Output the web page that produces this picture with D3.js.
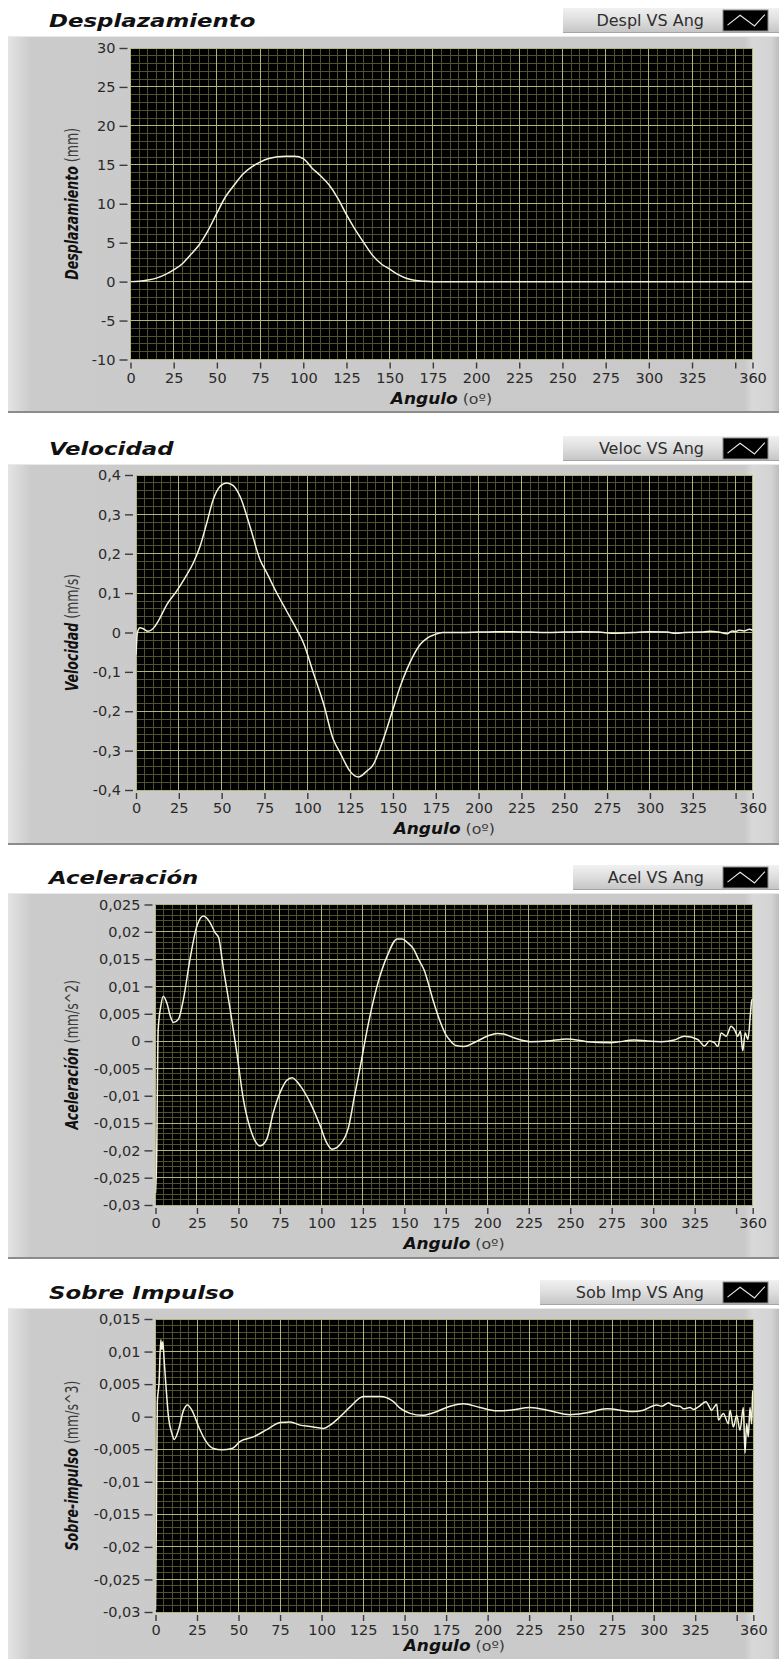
<!DOCTYPE html>
<html>
<head>
<meta charset="utf-8">
<script src="https://cdn.jsdelivr.net/npm/d3@7"></script>
<style>
  body { margin: 0; background: #ffffff; }
  svg { display: block; }
</style>
</head>
<body>
<svg id="chart" width="779" height="1659"></svg>
<script>
// ---- Shared angle axis -------------------------------------------------
const xTickValues = [0, 25, 50, 75, 100, 125, 150, 175, 200, 225, 250, 275, 300, 325, 350, 360];
const xTickLabels = ["0", "25", "50", "75", "100", "125", "150", "175", "200", "225", "250", "275", "300", "325", "", "360"];
const xMinorStep = 5;

// ---- Desplazamiento (mm) ----------------------------------------------
const despAngles = [0, 5, 10, 15, 20, 25, 30, 35, 40, 45, 50, 55, 60, 65, 70, 75, 80, 85, 90, 95,
  100, 105, 110, 115, 120, 125, 130, 135, 140, 145, 150, 155, 160, 165, 170, 175,
  200, 225, 250, 275, 300, 325, 350, 360];
const despValues = [0, 0.05, 0.2, 0.45, 0.9, 1.5, 2.3, 3.5, 4.8, 6.6, 8.8, 10.9, 12.4, 13.8, 14.7, 15.35, 15.8, 16.05, 16.1, 16.1,
  15.8, 14.6, 13.6, 12.4, 10.7, 8.6, 6.7, 5.0, 3.4, 2.3, 1.6, 0.9, 0.4, 0.15, 0.05, 0,
  0, 0, 0, 0, 0, 0, 0, 0];
const despYTicks = [-10, -5, 0, 5, 10, 15, 20, 25, 30];
const despYTickLabels = ["-10", "-5", "0", "5", "10", "15", "20", "25", "30"];

// ---- Velocidad (mm/s) -------------------------------------------------
const velAngles = [0, 0.8, 2.3, 4, 7, 10, 13, 18, 23.7, 28.6, 33.5, 37.4, 41.3, 45.1, 49, 53, 56.8, 60.7,
  66.5, 72.4, 76.3, 82.1, 88, 93.8, 97.7, 103.5, 109.3, 115.2, 119.1, 124.9, 129.8, 134.7, 138.6,
  142, 146, 150, 154, 158, 162, 166, 170, 174, 179,
  190, 200, 210, 220, 230, 240, 250, 260, 270, 280, 290, 300, 310, 315, 320, 330, 335, 340, 345, 348, 350, 352, 355, 358, 360];
const velValues = [-0.056, 0, 0.012, 0.01, 0.003, 0.01, 0.029, 0.071, 0.105, 0.139, 0.177, 0.219, 0.278, 0.338, 0.371, 0.38, 0.373, 0.346,
  0.27, 0.185, 0.152, 0.101, 0.054, 0.008, -0.026, -0.102, -0.178, -0.272, -0.305, -0.352, -0.367, -0.352, -0.335,
  -0.3, -0.25, -0.195, -0.14, -0.095, -0.058, -0.03, -0.014, -0.006, 0,
  0, 0.001, 0.002, 0.002, 0.001, 0, 0.001, 0.002, 0.001, -0.002, 0, 0.002, 0.001, -0.002, 0, 0.001, 0.003, 0.001, -0.003, 0.004, 0.002, 0.006, 0.004, 0.008, 0.005];
const velYTicks = [-0.4, -0.3, -0.2, -0.1, 0, 0.1, 0.2, 0.3, 0.4];
const velYTickLabels = ["-0,4", "-0,3", "-0,2", "-0,1", "0", "0,1", "0,2", "0,3", "0,4"];

// ---- Aceleración (mm/s^2) ---------------------------------------------
const acelAngles = [0, 0.8, 1.2, 1.6, 3.2, 4.7, 6.8, 9, 10.8, 13.8, 16.8, 20.8, 24.9, 28.9, 32.9, 36, 38, 41, 45, 49,
  53, 58, 63, 67, 71, 76, 79, 82.3, 87.3, 93.3, 99.4, 103, 106.4, 111.4, 116.5, 120, 123.5, 127.6, 133.6, 139.7,
  145.7, 148.7, 152, 155.7, 158.5, 161.8, 167.8, 171.8, 175, 177.9, 181, 185.9, 192, 200, 206, 210, 216, 226, 236,
  248, 260, 274.5, 288.6, 296.7, 304.8, 312.8, 318.8, 326.9, 330.9, 333.9, 336.9, 339, 341, 344, 347, 349, 351,
  352.6, 354, 355.5, 357.1, 358.7, 359.5, 360];
const acelValues = [-0.0278, -0.019, -0.006, 0.002, 0.0064, 0.0082, 0.007, 0.0045, 0.0034, 0.004, 0.0076, 0.015, 0.021, 0.0229, 0.0217, 0.0198, 0.019, 0.0131, 0.0058, -0.0021,
  -0.0107, -0.0168, -0.0192, -0.018, -0.0131, -0.0088, -0.0072, -0.0067, -0.0082, -0.0113, -0.0156, -0.0185, -0.0198, -0.0189, -0.0156, -0.01, -0.0046, 0.0021, 0.0101, 0.0156,
  0.0187, 0.0187, 0.018, 0.0168, 0.015, 0.0131, 0.007, 0.0034, 0.0012, 0, -0.0008, -0.001, -0.0003, 0.0009, 0.0014, 0.0013, 0.0006, -0.0001, 0,
  0.0004, -0.0001, -0.0003, 0.0002, 0, -0.0001, 0.0002, 0.0009, 0.0003, -0.0009, 0, -0.0003, -0.001, 0.0015, 0.0009, 0.0027, 0.0021, 0.0009,
  0.0018, -0.0018, 0.0015, 0.0003, 0.0052, 0.0076, 0.0075];
const acelYTicks = [-0.03, -0.025, -0.02, -0.015, -0.01, -0.005, 0, 0.005, 0.01, 0.015, 0.02, 0.025];
const acelYTickLabels = ["-0,03", "-0,025", "-0,02", "-0,015", "-0,01", "-0,005", "0", "0,005", "0,01", "0,015", "0,02", "0,025"];

// ---- Sobre impulso (mm/s^3) -------------------------------------------
const sobAngles = [0, 0.5, 1.1, 2.1, 3.2, 3.8, 4.4, 5.2, 6.2, 7.8, 9.9, 11.3, 13.9, 16.9, 19.3, 21.9, 25.9, 29.9, 34.9, 40,
  46, 51, 59, 67, 75.1, 81.1, 87.1, 93.1, 101.2, 105.2, 111.2, 117.2, 125.2, 135.3, 143.3, 147.3, 153.3, 160.4, 167.4,
  177.4, 185.4, 195.5, 205.5, 213.5, 225.6, 237.6, 249.7, 259.7, 271.7, 287.8, 293.8, 301.8, 305, 308.8, 312, 315.8,
  318, 321.9, 324, 326.9, 331.5, 334.9, 338, 339, 342, 345, 346, 348, 350, 352, 354, 355, 356, 357, 358, 359, 359.7, 360];
const sobValues = [-0.0297, -0.0164, 0.0023, 0.0051, 0.0118, 0.0103, 0.0115, 0.0087, 0.0051, 0, -0.0026, -0.0035, -0.002, 0.001, 0.0018, 0.001, -0.0015, -0.0036, -0.0049, -0.0051,
  -0.0049, -0.0038, -0.0031, -0.002, -0.0009, -0.0008, -0.0013, -0.0015, -0.0018, -0.0013, 0, 0.0015, 0.0031, 0.0031, 0.0023, 0.0013, 0.0005, 0.0002, 0.0006,
  0.0016, 0.002, 0.0014, 0.0009, 0.001, 0.0014, 0.0009, 0.0003, 0.0006, 0.0012, 0.0008, 0.001, 0.0018, 0.0016, 0.0021, 0.0017, 0.0016,
  0.0012, 0.0014, 0.0011, 0.0015, 0.0023, 0.001, 0.0019, -0.0005, 0.0005, -0.0011, 0.001, -0.0016, 0.0002, -0.0021, 0.0014, -0.0056, -0.0011, -0.0031, 0.0014, -0.0011, 0.0039, 0.004];
const sobYTicks = [-0.03, -0.025, -0.02, -0.015, -0.01, -0.005, 0, 0.005, 0.01, 0.015];
const sobYTickLabels = ["-0,03", "-0,025", "-0,02", "-0,015", "-0,01", "-0,005", "0", "0,005", "0,01", "0,015"];

// ---- Chart definitions (content + placement on the page) ---------------
const charts = [
  { title: "Desplazamiento", yName: "Desplazamiento", yUnit: " (mm)", legend: "Despl VS Ang",
    angles: despAngles, values: despValues, yTicks: despYTicks, yLabels: despYTickLabels, minorStep: 1,
    frame: { top: 36, bottom: 413 }, plot: { l: 130.5, r: 752.5, t: 48, b: 359.5 }, legendX: 563 },
  { title: "Velocidad", yName: "Velocidad", yUnit: " (mm/s)", legend: "Veloc VS Ang",
    angles: velAngles, values: velValues, yTicks: velYTicks, yLabels: velYTickLabels, minorStep: 0.02,
    frame: { top: 464, bottom: 845 }, plot: { l: 136, r: 752.7, t: 475, b: 790 }, legendX: 563 },
  { title: "Aceleración", yName: "Aceleración", yUnit: "  (mm/s^2)", legend: "Acel VS Ang",
    angles: acelAngles, values: acelValues, yTicks: acelYTicks, yLabels: acelYTickLabels, minorStep: 0.001,
    frame: { top: 893, bottom: 1259 }, plot: { l: 155.5, r: 752.7, t: 904.5, b: 1205 }, legendX: 573 },
  { title: "Sobre Impulso", yName: "Sobre-impulso", yUnit: " (mm/s^3)", legend: "Sob Imp VS Ang",
    angles: sobAngles, values: sobValues, yTicks: sobYTicks, yLabels: sobYTickLabels, minorStep: 0.001,
    frame: { top: 1308, bottom: 1670 }, plot: { l: 155.5, r: 753.3, t: 1319, b: 1612 }, legendX: 540 }
];

const svg = d3.select("#chart");
const defs = svg.append("defs");

// Instrument-panel gray with lighter bevel strips on the sides
const pg = defs.append("linearGradient").attr("id", "panelGrad").attr("x1", 0).attr("x2", 1).attr("y1", 0).attr("y2", 0);
[[0, "#e4e4e4"], [0.012, "#dadada"], [0.03, "#cbcbcb"], [0.955, "#c9c9c9"], [0.966, "#d9d9d9"], [0.99, "#d3d3d3"], [1, "#bdbdbd"]]
  .forEach(([o, c]) => pg.append("stop").attr("offset", o).attr("stop-color", c));

const lgGrad = defs.append("linearGradient").attr("id", "legendGrad").attr("x1", 0).attr("x2", 0).attr("y1", 0).attr("y2", 1);
[[0, "#f1f1f1"], [0.5, "#dddddd"], [1, "#c4c4c4"]]
  .forEach(([o, c]) => lgGrad.append("stop").attr("offset", o).attr("stop-color", c));

const FONT = "'DejaVu Sans', Verdana, sans-serif";

charts.forEach((c, idx) => {
  const g = svg.append("g");
  const yMin = c.yTicks[0], yMax = c.yTicks[c.yTicks.length - 1];
  const x = d3.scaleLinear().domain([0, 360]).range([c.plot.l, c.plot.r]);
  const y = d3.scaleLinear().domain([yMin, yMax]).range([c.plot.b, c.plot.t]);

  // Panel body
  g.append("rect")
    .attr("x", 8).attr("y", c.frame.top)
    .attr("width", 771).attr("height", c.frame.bottom - c.frame.top)
    .attr("fill", "url(#panelGrad)");
  g.append("line").attr("x1", 8).attr("x2", 779).attr("y1", c.frame.top + 0.5).attr("y2", c.frame.top + 0.5)
    .attr("stroke", "#e9e9e9");
  g.append("line").attr("x1", 8).attr("x2", 779).attr("y1", c.frame.bottom - 1).attr("y2", c.frame.bottom - 1)
    .attr("stroke", "#8c8c8c").attr("stroke-width", 2);

  // Chart title
  g.append("text")
    .attr("transform", `translate(49,${c.frame.top - 9}) scale(1.27,1)`)
    .attr("font-family", FONT).attr("font-size", 18)
    .attr("font-weight", "bold").attr("font-style", "italic")
    .attr("fill", "#111").text(c.title);

  // Plot legend
  const lTop = c.frame.top - 28;
  g.append("rect").attr("x", c.legendX).attr("y", lTop).attr("width", 779 - c.legendX).attr("height", 25)
    .attr("fill", "url(#legendGrad)");
  g.append("line").attr("x1", c.legendX).attr("x2", 779).attr("y1", lTop + 24.5).attr("y2", lTop + 24.5)
    .attr("stroke", "#a5a5a5");
  g.append("text").attr("x", 704).attr("y", lTop + 18)
    .attr("text-anchor", "end").attr("font-family", FONT).attr("font-size", 16)
    .attr("fill", "#2e2e2e").text(c.legend);
  const sw = { x: 723, y: lTop + 2, w: 45, h: 21 };
  g.append("rect").attr("x", sw.x).attr("y", sw.y).attr("width", sw.w).attr("height", sw.h)
    .attr("fill", "#000").attr("stroke", "#8a8a8a");
  const icon = [[0.1, 0.72], [0.38, 0.25], [0.7, 0.76], [0.93, 0.22]];
  g.append("path")
    .attr("d", d3.line().x(p => sw.x + p[0] * sw.w).y(p => sw.y + p[1] * sw.h)(icon))
    .attr("fill", "none").attr("stroke", "#e8e8e8").attr("stroke-width", 1.1);

  // Plot area
  g.append("rect").attr("x", c.plot.l).attr("y", c.plot.t)
    .attr("width", c.plot.r - c.plot.l).attr("height", c.plot.b - c.plot.t)
    .attr("fill", "#000");

  const clipId = "clip" + idx;
  defs.append("clipPath").attr("id", clipId).append("rect")
    .attr("x", c.plot.l).attr("y", c.plot.t)
    .attr("width", c.plot.r - c.plot.l).attr("height", c.plot.b - c.plot.t);

  const grid = g.append("g").attr("shape-rendering", "crispEdges");
  // minor grid
  const xMinor = d3.range(0, 361, xMinorStep);
  const nY = Math.round((yMax - yMin) / c.minorStep);
  const yMinor = d3.range(nY + 1).map(i => yMin + i * c.minorStep);
  grid.selectAll(".vmin").data(xMinor).join("line")
    .attr("x1", d => x(d)).attr("x2", d => x(d)).attr("y1", c.plot.t).attr("y2", c.plot.b)
    .attr("stroke", "#51512b").attr("stroke-width", 1);
  grid.selectAll(".hmin").data(yMinor).join("line")
    .attr("x1", c.plot.l).attr("x2", c.plot.r).attr("y1", d => y(d)).attr("y2", d => y(d))
    .attr("stroke", "#51512b").attr("stroke-width", 1);
  // major grid
  grid.selectAll(".vmaj").data(xTickValues).join("line")
    .attr("x1", d => x(d)).attr("x2", d => x(d)).attr("y1", c.plot.t).attr("y2", c.plot.b)
    .attr("stroke", "#b4b478").attr("stroke-width", 1);
  grid.selectAll(".hmaj").data(c.yTicks).join("line")
    .attr("x1", c.plot.l).attr("x2", c.plot.r).attr("y1", d => y(d)).attr("y2", d => y(d))
    .attr("stroke", "#b4b478").attr("stroke-width", 1);

  // Data trace
  const pts = c.angles.map((a, i) => [a, c.values[i]]);
  g.append("path")
    .attr("clip-path", `url(#${clipId})`)
    .attr("d", d3.line().x(d => x(d[0])).y(d => y(d[1])).curve(d3.curveMonotoneX)(pts))
    .attr("fill", "none").attr("stroke", "#f4f4de").attr("stroke-width", 1.5)
    .attr("stroke-linejoin", "round");

  // Axes
  const xAxis = d3.axisBottom(x).tickValues(xTickValues)
    .tickFormat((d, i) => xTickLabels[i]).tickSize(6).tickPadding(4);
  const gx = g.append("g").attr("transform", `translate(0,${c.plot.b + 3})`).call(xAxis);
  const yAxis = d3.axisLeft(y).tickValues(c.yTicks)
    .tickFormat((d, i) => c.yLabels[i]).tickSize(8).tickPadding(4);
  const gy = g.append("g").attr("transform", `translate(${c.plot.l - 3},0)`).call(yAxis);
  [gx, gy].forEach(ax => {
    ax.select(".domain").remove();
    ax.selectAll(".tick line").attr("stroke", "#3a3a3a").attr("stroke-width", 1.4);
    ax.selectAll(".tick text").attr("font-family", FONT).attr("font-size", 14.5).attr("fill", "#2a2a2a");
  });

  // Axis titles
  const yl = g.append("text")
    .attr("transform", `translate(78,${(c.plot.t + c.plot.b) / 2}) rotate(-90) scale(0.74,1)`)
    .attr("text-anchor", "middle").attr("font-family", FONT).attr("font-size", 17);
  yl.append("tspan").attr("font-weight", "bold").attr("font-style", "italic").attr("fill", "#111").text(c.yName);
  yl.append("tspan").attr("fill", "#3a3a3a").text(c.yUnit);

  const xl = g.append("text")
    .attr("transform", `translate(${(c.plot.l + c.plot.r) / 2},${c.plot.b + (idx === 3 ? 39 : 44)}) scale(1.13,1)`)
    .attr("text-anchor", "middle").attr("font-family", FONT);
  xl.append("tspan").attr("font-size", 15).attr("font-weight", "bold").attr("font-style", "italic")
    .attr("fill", "#111").text("Angulo");
  xl.append("tspan").attr("font-size", 14).attr("fill", "#3a3a3a").text(" (oº)");
});
</script>
</body>
</html>
